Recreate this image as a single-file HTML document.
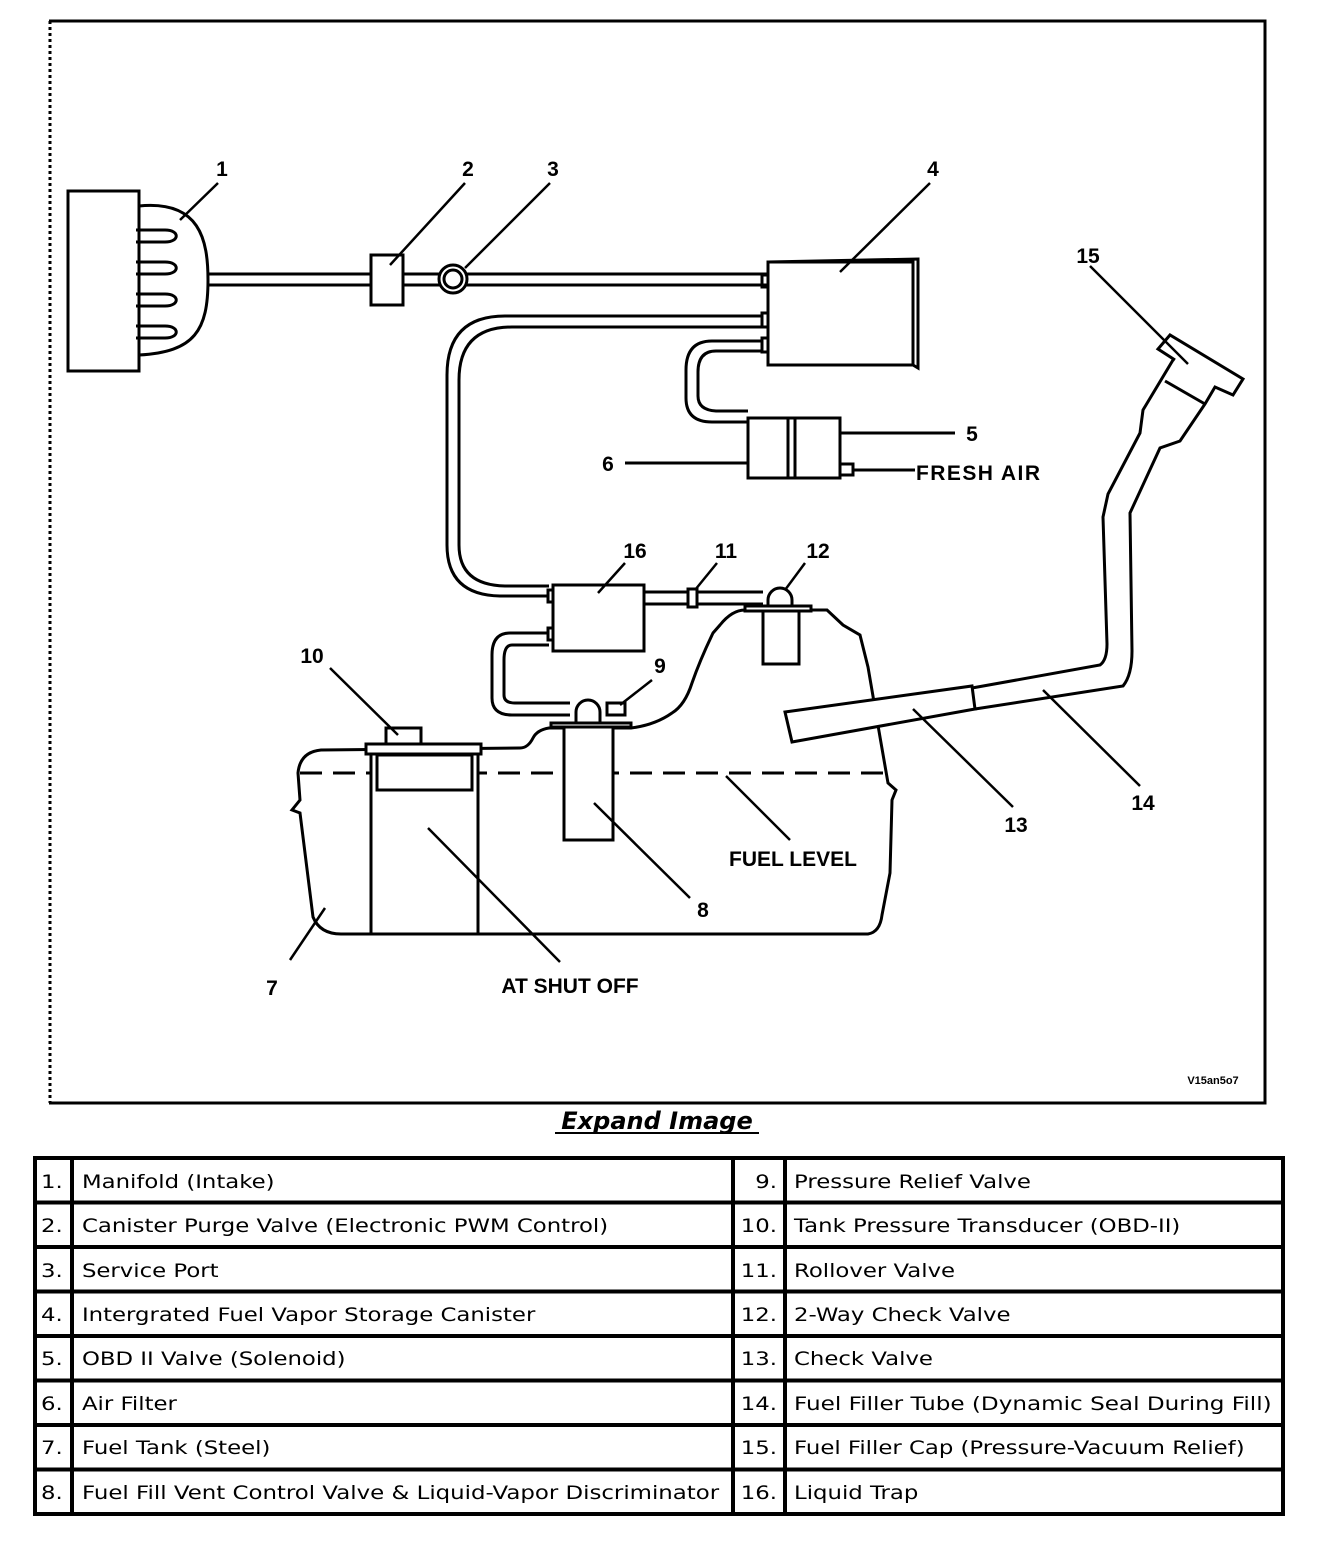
<!DOCTYPE html>
<html><head><meta charset="utf-8"><style>
html,body{margin:0;padding:0;background:#fff;width:1328px;height:1542px;overflow:hidden}
svg{display:block}
.l{font-family:"Liberation Sans",sans-serif;font-weight:bold;font-size:21px;text-anchor:middle}
.t{font-family:"DejaVu Sans","Liberation Sans",sans-serif;font-size:19px}
</style></head><body>
<svg width="1328" height="1542" viewBox="0 0 1328 1542" xmlns="http://www.w3.org/2000/svg" fill="none" stroke="#000" stroke-width="3">
<path d="M49,21 H1265 V1103 H49" stroke-width="3"/>
<line x1="50" y1="21" x2="50" y2="1103" stroke-width="3" stroke-dasharray="3,3"/>

<rect x="68" y="191" width="71" height="180"/>
<path d="M139,206 C200,200 208,240 208,280 C208,330 195,352 139,355"/>
<path d="M136,230 H165 C180,230 180,242 165,242 H136"/>
<path d="M136,262 H165 C180,262 180,274 165,274 H136"/>
<path d="M136,294 H165 C180,294 180,306 165,306 H136"/>
<path d="M136,326 H165 C180,326 180,338 165,338 H136"/>
<line x1="208" y1="274" x2="768" y2="274"/>
<line x1="208" y1="285" x2="768" y2="285"/>
<rect x="371" y="255" width="32" height="50" fill="#fff"/>
<circle cx="453" cy="279" r="14" fill="#fff"/>
<circle cx="453" cy="279" r="9"/>
<rect x="768" y="262" width="145" height="103" fill="#fff"/>
<path d="M768,262 L918,259 V368 L913,365"/>
<rect x="762" y="275" width="6" height="12"/>
<rect x="762" y="313" width="6" height="14"/>
<rect x="762" y="338" width="6" height="14"/>
<path d="M762,316 H505 Q447,316 447,375 V545 Q447,595 500,596 H549"/>
<path d="M762,327 H512 Q459,327 459,380 V545 Q459,585 505,586 H549"/>
<path d="M762,341 H712 Q686,341 686,370 V398 Q686,422 712,422 H748"/>
<path d="M762,351 H716 Q698,351 698,372 V396 Q698,410 716,411 H748"/>
<rect x="748" y="418" width="92" height="60" fill="#fff"/>
<line x1="788" y1="418" x2="788" y2="478"/>
<line x1="795" y1="418" x2="795" y2="478"/>
<rect x="840" y="464" width="13" height="11"/>
<line x1="853" y1="470" x2="915" y2="470"/>
<line x1="840" y1="433" x2="955" y2="433"/>
<line x1="625" y1="463" x2="748" y2="463"/>
<rect x="553" y="585" width="91" height="66" fill="#fff"/>
<rect x="548" y="590" width="5" height="12"/>
<rect x="548" y="628" width="5" height="12"/>
<line x1="644" y1="592" x2="763" y2="592"/>
<line x1="644" y1="604" x2="763" y2="604"/>
<rect x="688" y="589" width="9" height="18" fill="#fff"/>
<path d="M549,633 H510 Q492,633 492,655 V698 Q492,715 512,715 H570"/>
<path d="M549,645 H512 Q504,645 504,660 V695 Q504,703 515,703 H570"/>
<path d="M321,750 Q300,752 298,773 L300,800 L292,810 L300,813 L313,917 Q320,934 341,934 H868 Q880,932 882,915 L890,873 L892,800 L896,790 L888,783 L880,737 L868,667 L860,635 L843,625 L827,610 H745 Q732,610 720,625 L713,633 Q700,660 692,683 Q685,705 672,713 Q655,725 631,728 H549 Q537,730 533,738 Q528,748 520,748 Z"/>
<line x1="300" y1="773" x2="885" y2="773" stroke-dasharray="22,11"/>
<rect x="371" y="754" width="107" height="180" fill="#fff"/>
<rect x="377" y="755" width="95" height="35"/>
<rect x="366" y="744" width="115" height="10" fill="#fff"/>
<rect x="386" y="728" width="35" height="16"/>
<rect x="564" y="727" width="49" height="113" fill="#fff"/>
<rect x="551" y="723" width="80" height="4" fill="#fff"/>
<path d="M576,722 V712 A12,12 0 0 1 600,712 V722"/>
<rect x="607" y="703" width="18" height="12"/>
<rect x="763" y="611" width="36" height="53" fill="#fff"/>
<rect x="745" y="606" width="66" height="5" fill="#fff"/>
<path d="M768,606 V600 A12,12 0 0 1 792,600 V606"/>
<path d="M972,688 L1100,665 Q1107,660 1107,644 L1103,517 L1108,494 L1140,433 L1143,410 L1173,360"/>
<path d="M975,709 L1123,686 Q1132,675 1132,651 L1130,513 L1160,448 L1180,441 L1205,404 L1215,387 L1233,395 L1243,379 L1170,335 L1158,349 L1175,360"/>
<line x1="1165" y1="381" x2="1205" y2="404"/>
<path d="M785,712 L972,686 L975,709 L792,742 Z" fill="#fff"/>
<g stroke-width="2.5">
<line x1="218" y1="183" x2="180" y2="220"/>
<line x1="465" y1="183" x2="390" y2="265"/>
<line x1="550" y1="183" x2="465" y2="268"/>
<line x1="930" y1="183" x2="840" y2="272"/>
<line x1="1090" y1="266" x2="1188" y2="364"/>
<line x1="1043" y1="690" x2="1140" y2="786"/>
<line x1="913" y1="709" x2="1013" y2="807"/>
<line x1="330" y1="668" x2="398" y2="735"/>
<line x1="652" y1="680" x2="620" y2="705"/>
<line x1="625" y1="563" x2="598" y2="593"/>
<line x1="717" y1="563" x2="695" y2="590"/>
<line x1="805" y1="563" x2="785" y2="590"/>
<line x1="594" y1="803" x2="690" y2="898"/>
<line x1="726" y1="776" x2="790" y2="840"/>
<line x1="428" y1="828" x2="560" y2="962"/>
<line x1="325" y1="908" x2="290" y2="960"/>
</g>
<g stroke="none" fill="#000">
<text class="l" x="222" y="176">1</text>
<text class="l" x="468" y="176">2</text>
<text class="l" x="553" y="176">3</text>
<text class="l" x="933" y="176">4</text>
<text class="l" x="1088" y="263">15</text>
<text class="l" x="972" y="441">5</text>
<text class="l" x="608" y="471">6</text>
<text class="l" x="978" y="480" textLength="124">FRESH AIR</text>
<text class="l" x="635" y="558">16</text>
<text class="l" x="726" y="558">11</text>
<text class="l" x="818" y="558">12</text>
<text class="l" x="312" y="663">10</text>
<text class="l" x="660" y="673">9</text>
<text class="l" x="703" y="917">8</text>
<text class="l" x="793" y="866">FUEL LEVEL</text>
<text class="l" x="570" y="993">AT SHUT OFF</text>
<text class="l" x="272" y="995">7</text>
<text class="l" x="1016" y="832">13</text>
<text class="l" x="1143" y="810">14</text>
<text x="1213" y="1084" style="font-family:'Liberation Sans',sans-serif;font-weight:bold;font-size:11px" text-anchor="middle">V15an5o7</text>
<text x="657" y="1129" text-anchor="middle" style="font-family:'DejaVu Sans',sans-serif;font-weight:bold;font-style:italic;font-size:24px">Expand Image</text>
</g>
<line x1="555" y1="1133" x2="759" y2="1133" stroke-width="2"/>

<g stroke-width="4">
<rect x="35" y="1158" width="1248" height="356"/>
<line x1="72" y1="1158" x2="72" y2="1514"/>
<line x1="733" y1="1158" x2="733" y2="1514"/>
<line x1="785" y1="1158" x2="785" y2="1514"/>
<line x1="35" y1="1202.5" x2="1283" y2="1202.5"/>
<line x1="35" y1="1247" x2="1283" y2="1247"/>
<line x1="35" y1="1291.5" x2="1283" y2="1291.5"/>
<line x1="35" y1="1336" x2="1283" y2="1336"/>
<line x1="35" y1="1380.5" x2="1283" y2="1380.5"/>
<line x1="35" y1="1425" x2="1283" y2="1425"/>
<line x1="35" y1="1469.5" x2="1283" y2="1469.5"/>
</g>
<g stroke="none" fill="#000" class="t" transform="scale(1.2,1)">
<text x="34.2" y="1188">1.</text><text x="68.3" y="1188">Manifold (Intake)</text>
<text x="34.2" y="1232">2.</text><text x="68.3" y="1232">Canister Purge Valve (Electronic PWM Control)</text>
<text x="34.2" y="1277">3.</text><text x="68.3" y="1277">Service Port</text>
<text x="34.2" y="1321">4.</text><text x="68.3" y="1321">Intergrated Fuel Vapor Storage Canister</text>
<text x="34.2" y="1365">5.</text><text x="68.3" y="1365">OBD II Valve (Solenoid)</text>
<text x="34.2" y="1410">6.</text><text x="68.3" y="1410">Air Filter</text>
<text x="34.2" y="1454">7.</text><text x="68.3" y="1454">Fuel Tank (Steel)</text>
<text x="34.2" y="1499">8.</text><text x="68.3" y="1499" textLength="531" lengthAdjust="spacingAndGlyphs">Fuel Fill Vent Control Valve &amp; Liquid-Vapor Discriminator</text>
<g text-anchor="end">
<text x="647.5" y="1188">9.</text><text x="647.5" y="1232">10.</text><text x="647.5" y="1277">11.</text><text x="647.5" y="1321">12.</text>
<text x="647.5" y="1365">13.</text><text x="647.5" y="1410">14.</text><text x="647.5" y="1454">15.</text><text x="647.5" y="1499">16.</text>
</g>
<text x="661.7" y="1188">Pressure Relief Valve</text>
<text x="661.7" y="1232">Tank Pressure Transducer (OBD-II)</text>
<text x="661.7" y="1277">Rollover Valve</text>
<text x="661.7" y="1321">2-Way Check Valve</text>
<text x="661.7" y="1365">Check Valve</text>
<text x="661.7" y="1410" textLength="398" lengthAdjust="spacingAndGlyphs">Fuel Filler Tube (Dynamic Seal During Fill)</text>
<text x="661.7" y="1454">Fuel Filler Cap (Pressure-Vacuum Relief)</text>
<text x="661.7" y="1499">Liquid Trap</text>
</g>
</svg>
</body></html>
